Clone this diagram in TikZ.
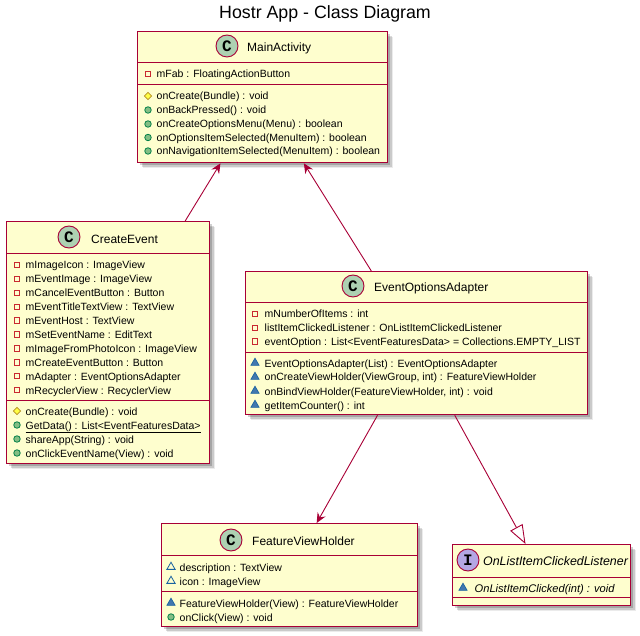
\documentclass[tikz,border=0pt]{standalone}
\usepackage{fontspec}
\setmainfont{Liberation Sans}
\newfontfamily\iconfont{Liberation Mono}
\usetikzlibrary{arrows.meta,calc,shadows,shapes.geometric}
\definecolor{umlline}{HTML}{A80036}
\definecolor{umlfill}{HTML}{FEFECE}
\definecolor{classbadge}{HTML}{ADD1B2}
\definecolor{ifacebadge}{HTML}{B4A7E5}
\definecolor{privline}{HTML}{C82930}
\definecolor{protline}{HTML}{B38D22}
\definecolor{protfill}{HTML}{FFFF44}
\definecolor{publine}{HTML}{038048}
\definecolor{pubfill}{HTML}{84BE84}
\definecolor{packline}{HTML}{1963A0}
\definecolor{packfill}{HTML}{4177AF}
\tikzset{
    classbox/.style={draw=umlline,fill=umlfill,line width=1.3pt,anchor=north west,inner sep=0pt,
        general shadow={shadow xshift=2.5pt,shadow yshift=-2.5pt,fill=black,opacity=.18},
        general shadow={shadow xshift=4pt,shadow yshift=-4pt,fill=black,opacity=.14},
        general shadow={shadow xshift=5.5pt,shadow yshift=-5.5pt,fill=black,opacity=.08}},
    divider/.style={draw=umlline,line width=.9pt},
    badge/.style={circle,draw=umlline,line width=.9pt,minimum size=22pt,inner sep=0pt,font=\iconfont\bfseries\fontsize{16}{16}\selectfont},
    classname/.style={anchor=west,inner sep=0pt,text height=10.5pt,text depth=1.4pt,font=\fontsize{12}{14}\selectfont},
    member/.style={anchor=west,inner sep=0pt,text height=10pt,text depth=2pt,font=\fontsize{10.5}{13}\selectfont},
    privicon/.style={rectangle,draw=privline,line width=.8pt,minimum size=5.5pt,inner sep=0pt},
    protecticon/.style={diamond,draw=protline,fill=protfill,line width=.7pt,minimum size=7.5pt,inner sep=0pt},
    publicicon/.style={circle,draw=publine,fill=pubfill,line width=.8pt,minimum size=6.5pt,inner sep=0pt},
    packicon/.style={regular polygon,regular polygon sides=3,draw=packline,fill=packfill,line width=.7pt,minimum size=9.5pt,inner sep=0pt},
    packopenicon/.style={regular polygon,regular polygon sides=3,draw=packline,line width=.8pt,minimum size=9.5pt,inner sep=0pt},
    assoc/.style={draw=umlline,line width=.9pt,-{Stealth[length=10pt,width=9pt,inset=3.5pt]}},
    realize/.style={draw=umlline,line width=.9pt,-{Triangle[open,length=19pt,width=14pt]}}
}
\begin{document}
\begin{tikzpicture}[x=1pt,y=-1pt]
    \useasboundingbox (0,0) rectangle (640,636);
    \node[font=\fontsize{17.8}{20}\selectfont] (title) at (325,14) {Hostr App - Class Diagram};

    % MainActivity
    \node[classbox,minimum width=250pt,minimum height=131pt] (main) at (137,31) {};
    \node[badge,fill=classbadge] (mainbadge) at (227,46) {C};
    \node[classname] (mainname) at (247,47) {MainActivity};
    \draw[divider] (main.west |- 0,62) -- (main.east |- 0,62);
    \draw[divider] (main.west |- 0,84) -- (main.east |- 0,84);
    \foreach \ypos/\icon/\member [count=\i] in {
        74/privicon/{mFab : FloatingActionButton},
        96/protecticon/{onCreate(Bundle) : void},
        110/publicicon/{onBackPressed() : void},
        124/publicicon/{onCreateOptionsMenu(Menu) : boolean},
        137.5/publicicon/{onOptionsItemSelected(MenuItem) : boolean},
        151/publicicon/{onNavigationItemSelected(MenuItem) : boolean}}
    {
        \node[\icon] (mainicon\i) at (148,\ypos) {};
        \node[member] (mainrow\i) at (156.5,\ypos) {\member};
    }

    % CreateEvent
    \node[classbox,minimum width=203pt,minimum height=242pt] (create) at (6,221) {};
    \node[badge,fill=classbadge] (createbadge) at (69,237) {C};
    \node[classname] (createname) at (91,239) {CreateEvent};
    \draw[divider] (create.west |- 0,253) -- (create.east |- 0,253);
    \draw[divider] (create.west |- 0,400) -- (create.east |- 0,400);
    \foreach \ypos/\icon/\member [count=\i] in {
        265/privicon/{mImageIcon : ImageView},
        279/privicon/{mEventImage : ImageView},
        293/privicon/{mCancelEventButton : Button},
        307/privicon/{mEventTitleTextView : TextView},
        320.5/privicon/{mEventHost : TextView},
        334.5/privicon/{mSetEventName : EditText},
        348.5/privicon/{mImageFromPhotoIcon : ImageView},
        362.5/privicon/{mCreateEventButton : Button},
        376/privicon/{mAdapter : EventOptionsAdapter},
        390/privicon/{mRecyclerView : RecyclerView},
        411/protecticon/{onCreate(Bundle) : void},
        425/publicicon/{\underline{GetData() : List<EventFeaturesData>}},
        439/publicicon/{shareApp(String) : void},
        453/publicicon/{onClickEventName(View) : void}}
    {
        \node[\icon] (createicon\i) at (17,\ypos) {};
        \node[member] (createrow\i) at (25.5,\ypos) {\member};
    }

    % EventOptionsAdapter
    \node[classbox,minimum width=342pt,minimum height=143pt] (adapter) at (245,271) {};
    \node[badge,fill=classbadge] (adapterbadge) at (353,286) {C};
    \node[classname] (adaptername) at (374,287) {EventOptionsAdapter};
    \draw[divider] (adapter.west |- 0,302) -- (adapter.east |- 0,302);
    \draw[divider] (adapter.west |- 0,352) -- (adapter.east |- 0,352);
    \foreach \ypos/\icon/\member [count=\i] in {
        314/privicon/{mNumberOfItems : int},
        328/privicon/{listItemClickedListener : OnListItemClickedListener},
        341.5/privicon/{eventOption : List<EventFeaturesData> = Collections.EMPTY\_LIST},
        363/packicon/{EventOptionsAdapter(List) : EventOptionsAdapter},
        377/packicon/{onCreateViewHolder(ViewGroup, int) : FeatureViewHolder},
        391/packicon/{onBindViewHolder(FeatureViewHolder, int) : void},
        405/packicon/{getItemCounter() : int}}
    {
        \node[\icon] (adaptericon\i) at (255,\ypos) {};
        \node[member] (adapterrow\i) at (264.5,\ypos) {\member};
    }

    % FeatureViewHolder
    \node[classbox,minimum width=256pt,minimum height=103pt] (holder) at (161,523) {};
    \node[badge,fill=classbadge] (holderbadge) at (231,540) {C};
    \node[classname] (holdername) at (252,541) {FeatureViewHolder};
    \draw[divider] (holder.west |- 0,555) -- (holder.east |- 0,555);
    \draw[divider] (holder.west |- 0,591) -- (holder.east |- 0,591);
    \foreach \ypos/\icon/\member [count=\i] in {
        567/packopenicon/{description : TextView},
        581/packopenicon/{icon : ImageView},
        603/packicon/{FeatureViewHolder(View) : FeatureViewHolder},
        617/publicicon/{onClick(View) : void}}
    {
        \node[\icon] (holdericon\i) at (171,\ypos) {};
        \node[member] (holderrow\i) at (179.5,\ypos) {\member};
    }

    % OnListItemClickedListener
    \node[classbox,minimum width=178pt,minimum height=61pt] (listener) at (452,544) {};
    \node[badge,fill=ifacebadge] (listenerbadge) at (468,560) {I};
    \node[classname,font=\itshape\fontsize{12.4}{14}\selectfont] (listenername) at (483,561) {OnListItemClickedListener};
    \draw[divider] (listener.west |- 0,577) -- (listener.east |- 0,577);
    \draw[divider] (listener.west |- 0,597) -- (listener.east |- 0,597);
    \node[packicon] (listenericon1) at (463,588) {};
    \node[member,font=\itshape\fontsize{11.1}{13}\selectfont] (listenerrow1) at (474.5,588) {OnListItemClicked(int) : void};

    % connectors
    \draw[assoc] ($(create.north west)!.877!(create.north east)$) -- ($(main.south west)!.332!(main.south east)$);
    \draw[assoc] ($(adapter.north west)!.368!(adapter.north east)$) -- ($(main.south west)!.664!(main.south east)$);
    \draw[assoc] ($(adapter.south west)!.386!(adapter.south east)$) -- ($(holder.north west)!.605!(holder.north east)$);
    \draw[realize] ($(adapter.south west)!.611!(adapter.south east)$) -- ($(listener.north west)!.41!(listener.north east)$);
\end{tikzpicture}
\end{document}
